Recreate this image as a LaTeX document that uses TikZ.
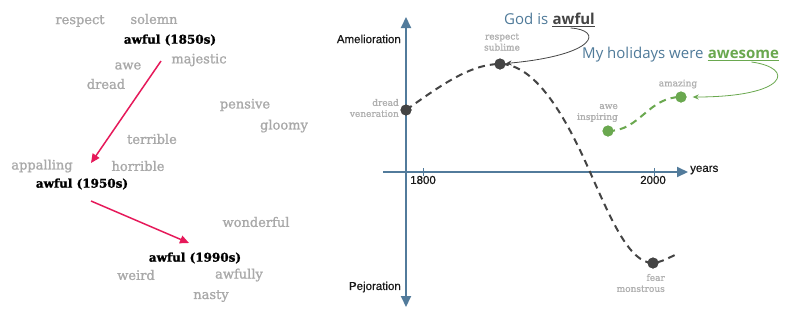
\documentclass[tikz,border=0pt]{standalone}
\usepackage{fontspec}
\setmainfont{DejaVu Serif}
\newfontfamily\slabfont[FakeBold=1.2]{DejaVu Serif}
\newfontfamily\slabbold[FakeBold=1.5]{DejaVu Serif}
\newfontfamily\plexfont{Open Sans}
\newfontfamily\arialfont[FakeBold=0.6]{Liberation Sans}
\usetikzlibrary{arrows.meta,calc}
\definecolor{wordgray}{HTML}{A9A9A9}
\definecolor{labgray}{HTML}{B0B0B0}
\definecolor{pinkred}{HTML}{E6195A}
\definecolor{axisblue}{HTML}{527B9B}
\definecolor{dotgray}{HTML}{444444}
\definecolor{leafgreen}{HTML}{6AA84F}
\definecolor{titleblue}{HTML}{4F7A99}
\begin{document}
\begin{tikzpicture}[x=1pt,y=-1pt,
  gw/.style={text=wordgray, font=\slabfont\fontsize{13}{15}\selectfont, inner sep=0pt},
  aw/.style={text=black, font=\slabbold\bfseries\fontsize{12}{14}\selectfont, inner sep=0pt},
  lab/.style={text=labgray, font=\slabfont\fontsize{9}{11}\selectfont, inner sep=0pt},
  axlab/.style={text=black!90, font=\arialfont\fontsize{11.5}{13}\selectfont, inner sep=0pt},
  ttl/.style={font=\plexfont\fontsize{15}{17}\selectfont, inner sep=0pt},
  pk/.style={draw=pinkred, line width=1.5pt, -{Triangle[length=9pt,width=8pt]}},
  axis/.style={draw=axisblue, line width=2pt},
  dotnode/.style={circle, fill=dotgray, minimum size=11pt, inner sep=0pt},
  gdot/.style={circle, fill=leafgreen, minimum size=11pt, inner sep=0pt},
  dashcurve/.style={draw=dotgray, line width=2pt, dash pattern=on 7pt off 5pt},
  gdash/.style={draw=leafgreen, line width=2pt, dash pattern=on 7pt off 5pt},
]
\useasboundingbox (0,0) rectangle (793,314);
\fill[white] (0,0) rectangle (793,314);

% ---- left word cloud ----
\node[gw] (respect) at (80,21) {respect};
\node[gw] (solemn) at (154,19) {solemn};
\node[aw] (a1850) at (170,40) {awful (1850s)};
\node[gw] (majestic) at (199,60) {majestic};
\node[gw] (awe) at (128,66) {awe};
\node[gw] (dread) at (106,84) {dread};
\node[gw] (pensive) at (245,105) {pensive};
\node[gw] (gloomy) at (284,126) {gloomy};
\node[gw] (terrible) at (152,139) {terrible};
\node[gw] (appalling) at (42,166) {appalling};
\node[gw] (horrible) at (138,166) {horrible};
\node[aw] (a1950) at (82,184) {awful (1950s)};
\node[gw] (wonderful) at (256,222) {wonderful};
\node[aw] (a1990) at (195,258) {awful (1990s)};
\node[gw] (weird) at (136,275) {weird};
\node[gw] (awfully) at (239,275) {awfully};
\node[gw] (nasty) at (211,296) {nasty};

\draw[pk] ($(a1850)+(-9,21)$) -- ($(a1950)+(9,-21)$);
\draw[pk] ($(a1950)+(9,17)$) -- ($(a1990)+(-6,-15)$);

% ---- axes ----
\coordinate (xs) at (383,172);
\coordinate (xe) at (688,172);
\coordinate (yt) at (406,17);
\coordinate (yb) at (406,307);
\draw[axis, {Triangle[length=11pt,width=10pt]}-{Triangle[length=11pt,width=10pt]}] (yb) -- (yt);
\draw[axis, -{Triangle[length=11pt,width=10pt]}] (xs) -- (xe);
\coordinate (t1) at (423,172);
\coordinate (t2) at (654,172);
\draw[axisblue, line width=1pt] ($(t1)+(0,-4)$) -- ($(t1)+(0,4)$);
\draw[axisblue, line width=1pt] ($(t2)+(0,-4)$) -- ($(t2)+(0,4)$);
\node[axlab] (l1800) at (423,180) {1800};
\node[axlab] (l2000) at (653,180) {2000};
\node[axlab, anchor=west] (years) at (690,170) {years};
\node[axlab, anchor=east] (amel) at (401,39) {Amelioration};
\node[axlab, anchor=east] (pejo) at (401,287) {Pejoration};

% ---- curve ----
\coordinate (cross) at (590,172);
\coordinate (tail) at (675,255);
\node[dotnode] (d1) at (406,110) {};
\node[dotnode] (d2) at (500,64) {};
\node[dotnode] (d3) at (653,263) {};
\draw[dashcurve] (d1.center) .. controls (440,86) and (470,64) .. (d2.center)
  .. controls (535,64) and (565,115) .. (cross)
  .. controls (612,222) and (630,263) .. (d3.center)
  .. controls (662,262) and (668,258) .. (tail);
\fill[dotgray] (d1) circle (5.5pt);
\fill[dotgray] (d2) circle (5.5pt);
\fill[dotgray] (d3) circle (5.5pt);

\node[lab, anchor=east, align=right] (l1) at (399,108) {dread\\veneration};
\node[lab, align=center] (l2) at (502,42) {respect\\sublime};
\node[lab, anchor=east, align=right] (l3) at (665,283) {fear\\monstrous};

% ---- green ----
\node[gdot] (g1) at (608,131) {};
\node[gdot] (g2) at (681,97) {};
\draw[gdash] (g1.center) .. controls (640,131) and (648,97) .. (g2.center);
\fill[leafgreen] (g1) circle (5.5pt);
\fill[leafgreen] (g2) circle (5.5pt);
\node[lab, anchor=east, align=right] (lg1) at (618,113) {awe\\inspiring};
\node[lab] (lg2) at (678,84) {amazing};

% ---- titles ----
\node[ttl, text=titleblue, anchor=base west] (godis) at (504,24) {God is};
\node[ttl, text=dotgray, anchor=base west] (awf) at ([xshift=4pt]godis.base east) {\bfseries awful};
\draw[dotgray, line width=1.5pt] ([yshift=-2.5pt]awf.base west) -- ([yshift=-2.5pt]awf.base east);
\node[ttl, text=titleblue, anchor=base west] (hol) at (582,58) {My holidays were};
\node[ttl, text=leafgreen, anchor=base west] (awes) at ([xshift=4pt]hol.base east) {\bfseries awesome};
\draw[leafgreen, line width=1.5pt] ([yshift=-2.5pt]awes.base west) -- ([yshift=-2.5pt]awes.base east);

\draw[dotgray, line width=0.8pt, -{Stealth[length=6pt,width=5pt]}] ($(awf.base)+(-3,4)$) .. controls (603,30) and (598,55) .. (d2);
\draw[leafgreen, line width=0.8pt, -{Stealth[length=6pt,width=5pt]}, shorten >=6pt] ($(awes.base)+(8,4)$) .. controls (796,68) and (788,97) .. (g2);
\end{tikzpicture}
\end{document}
